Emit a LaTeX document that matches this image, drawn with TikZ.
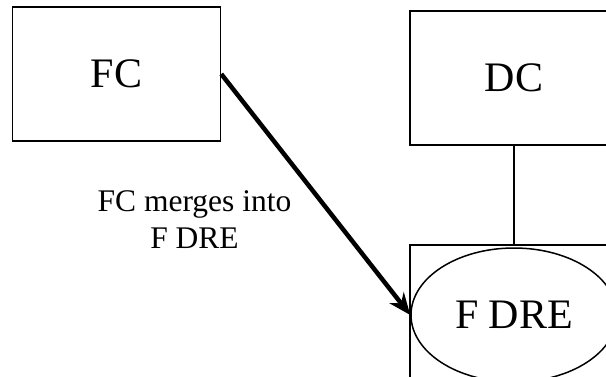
\documentclass[tikz,border=0pt]{standalone}
\usepackage{fontspec}
\setmainfont{Liberation Serif}
\usetikzlibrary{arrows.meta,shapes.geometric}

\begin{document}
\begin{tikzpicture}[x=1pt,y=-1pt,
 box/.style={draw,line width=1.5pt,rectangle,minimum width=208pt,minimum height=134pt,font=\fontsize{42}{50}\selectfont},
 blob/.style={draw,line width=1.5pt,ellipse,minimum width=206pt,minimum height=134pt,inner sep=0pt,font=\fontsize{42}{50}\selectfont},
 merge/.style={line width=4.5pt,-{Stealth[length=22pt,width=18pt]}}]
\useasboundingbox (0,0) rectangle (606,376);
\clip (0,0) rectangle (606,376);
\node[box] (fc) at (116.5,74) {FC};
\node[box] (dc) at (514,78) {DC};
\node[box,minimum height=170pt] (drebox) at (514,330) {};
\node[blob] (dre) at (514,315) {F DRE};
\draw[line width=1.5pt] (dc.south) -- (drebox.north);
\draw[merge] (fc.east) -- (dre.west);
\node[align=center,inner sep=0pt,font=\fontsize{31.5}{37}\selectfont] (lbl) at (194.5,220) {FC merges into\\F DRE};
\end{tikzpicture}
\end{document}
